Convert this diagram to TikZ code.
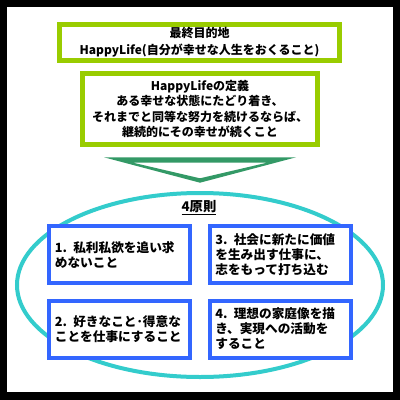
\documentclass[tikz,border=0pt]{standalone}
\usepackage{fontspec}
\setmainfont{Noto Sans CJK JP}
\usetikzlibrary{calc}

\definecolor{goalgreen}{HTML}{99CC00}
\definecolor{arrowgreen}{HTML}{339966}
\definecolor{ringcyan}{HTML}{33CCCC}
\definecolor{ruleblue}{HTML}{3366FF}

\begin{document}
\begin{tikzpicture}[x=0.75pt,y=-0.75pt,
	goalbox/.style={draw=goalgreen, line width=3.5pt, fill=white, align=center, inner sep=0pt,
		font=\bfseries\fontsize{9}{12.75}\selectfont},
	rulebox/.style={draw=ruleblue, line width=3pt, fill=white, minimum width=105.75pt,
		minimum height=42.75pt, text width=97pt, align=left, inner sep=0pt,
		font=\bfseries\fontsize{9.5}{11.25}\selectfont}]

	\useasboundingbox (0,0) rectangle (400,400);

	% frame
	\fill[black] (0,0) rectangle (400,400);
	\fill[white] (7,7) rectangle (393,392);

	% goal boxes
	\node[goalbox, minimum width=210pt, minimum height=27pt] (goal) at (199.5,42.5)
		{最終目的地\\HappyLife(自分が幸せな人生をおくること)};
	\node[goalbox, minimum width=176.25pt, minimum height=53.25pt,
		font=\bfseries\fontsize{9}{11.5}\selectfont] (define) at (200,109)
		{HappyLifeの定義\\ある幸せな状態にたどり着き、\\それまでと同等な努力を続けるならば、\\継続的にその幸せが続くこと};

	% arrow
	\coordinate (L) at (104,157.3);
	\coordinate (R) at (296,157.3);
	\coordinate (T) at (200,182.7);
	\fill[arrowgreen, even odd rule] (L) -- (R) -- (T) -- cycle
		(133,162.7) -- (267,162.7) -- (200,178.3) -- cycle;

	% ring
	\coordinate (C) at (200,285);
	\draw[ringcyan, line width=3pt] (C) ellipse (183 and 92);
	\node[font=\bfseries\fontsize{10}{12}\selectfont] (title) at (199,208) {\underline{4原則}};

	% rules
	\node[rulebox] (r1) at (119.5,254.5) {1. 私利私欲を追い求\\めないこと};
	\node[rulebox] (r3) at (280,254.5) {3. 社会に新たに価値\\を生み出す仕事に、\\志をもって打ち込む};
	\node[rulebox] (r2) at (119.5,329) {2. 好きなこと･得意な\\ことを仕事にすること};
	\node[rulebox] (r4) at (280,329) {4. 理想の家庭像を描\\き、実現への活動を\\すること};

\end{tikzpicture}
\end{document}
